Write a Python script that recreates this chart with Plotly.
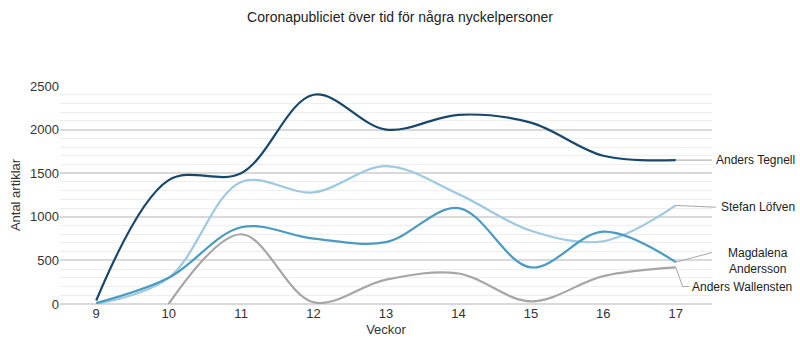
import plotly.graph_objects as go

weeks = [9, 10, 11, 12, 13, 14, 15, 16, 17]
tegnell = [40, 1420, 1500, 2400, 2000, 2170, 2080, 1700, 1650]
lofven = [0, 300, 1400, 1280, 1580, 1260, 840, 720, 1130]
magdalena = [10, 300, 880, 750, 710, 1100, 420, 830, 480]
wallensten = [None, 0, 800, 20, 280, 350, 30, 320, 420]

names = ["Anders Tegnell", "Stefan Löfven", "Magdalena Andersson", "Anders Wallensten"]
label_text = ["Anders Tegnell", "Stefan Löfven", "Magdalena<br>Andersson", "Anders Wallensten"]
series = [tegnell, lofven, magdalena, wallensten]
colors = ["#17476b", "#9dcae0", "#4a9bc4", "#a6a6a6"]

FONT = "Liberation Sans"

fig = go.Figure()
for name, ys, c in zip(names, series, colors):
    fig.add_trace(go.Scatter(x=weeks, y=ys, mode="lines", name=name,
                             line=dict(color=c, width=2.2, shape="spline", smoothing=1.0),
                             connectgaps=False, showlegend=False))

x0, x1 = 8.5, 17.5
def paper_x(v):
    return (v - x0) / (x1 - x0)

xe = paper_x(weeks[-1])
leaders = [
    dict(pts=[(1.0, 1650)], lx=1.003, ly=1650, anchor="left"),
    dict(pts=[(1.006, 1110)], lx=1.01, ly=1110, anchor="left"),
    dict(pts=[(1.0, 590)], lx=1.07, ly=490, anchor="center"),
    dict(pts=[(0.955, 200), (0.965, 200)], lx=0.966, ly=200, anchor="left"),
]
shapes = []
annotations = []
for ys, ld, txt in zip(series, leaders, label_text):
    path = f"M {xe},{ys[-1]}"
    for (px, py) in ld["pts"]:
        path += f" L {px},{py}"
    shapes.append(dict(type="path", path=path, xref="paper", yref="y",
                       line=dict(color="#a6a6a6", width=1)))
    annotations.append(dict(x=ld["lx"], y=ld["ly"], xref="paper", yref="y",
                            text=txt, showarrow=False, xanchor=ld["anchor"],
                            align="center", font=dict(family=FONT, size=12, color="#222222")))

fig.update_layout(
    width=800, height=347,
    margin=dict(l=60, r=88, t=86, b=43),
    paper_bgcolor="white", plot_bgcolor="white",
    title=dict(text="Coronapubliciet över tid för några nyckelpersoner",
               x=0.5, xanchor="center", y=0.95, yanchor="middle",
               font=dict(family=FONT, size=14, color="#222222")),
    font=dict(family=FONT, size=13, color="#333333"),
    shapes=shapes, annotations=annotations,
    xaxis=dict(range=[x0, x1], tickvals=weeks, ticktext=[str(w) for w in weeks],
               showgrid=False, zeroline=False, showline=False, ticks="",
               title=dict(text="Veckor", standoff=4, font=dict(family=FONT, size=13)),
               tickfont=dict(family=FONT, size=13, color="#333333")),
    yaxis=dict(range=[0, 2500], dtick=500, tick0=0,
               showgrid=True, gridcolor="#d9d9d9", gridwidth=1.5,
               minor=dict(dtick=100, showgrid=True, gridcolor="#eeeeee", gridwidth=1),
               zeroline=True, zerolinecolor="#d9d9d9", zerolinewidth=2,
               showline=False, ticks="",
               title=dict(text="Antal artiklar", standoff=6, font=dict(family=FONT, size=13)),
               tickfont=dict(family=FONT, size=13, color="#333333")),
)

fig.write_html("out.html")
